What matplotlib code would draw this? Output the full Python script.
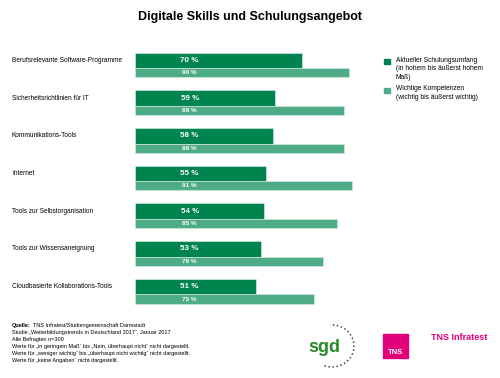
import numpy as np
import matplotlib.pyplot as plt
import matplotlib.transforms as mtransforms
from matplotlib.patches import Rectangle

plt.rcParams['font.family'] = ['Liberation Sans', 'DejaVu Sans']

title = "Digitale Skills und Schulungsangebot"
categories = ["Berufsrelevante Software-Programme", "Sicherheitsrichtlinien für IT",
              "Kommunikations-Tools", "Internet", "Tools zur Selbstorganisation",
              "Tools zur Wissensaneignung", "Cloudbasierte Kollaborations-Tools"]
aktuell = [70, 59, 58, 55, 54, 53, 51]
wichtig = [90, 88, 88, 91, 85, 79, 75]
legend_labels = ["Aktueller Schulungsumfang\n(in hohem bis äußerst hohem\nMaß)",
                 "Wichtige Kompetenzen\n(wichtig bis äußerst wichtig)"]
quelle = "TNS Infratest/Studiengemeinschaft Darmstadt"
footer = ("Studie \u201eWeiterbildungstrends in Deutschland 2017\u201c, Januar 2017\n"
          "Alle Befragten n=300\n"
          "Werte für \u201ein geringem Maß\u201c bis \u201eNein, überhaupt nicht\u201c nicht dargestellt.\n"
          "Werte für \u201eweniger wichtig\u201c bis \u201eüberhaupt nicht wichtig\u201c nicht dargestellt.\n"
          "Werte für \u201ekeine Angaben\u201c nicht dargestellt.")

dark = '#00844f'
light = '#4dab86'
magenta = '#e2007a'

fig = plt.figure(figsize=(5, 3.78), dpi=100)
ax = fig.add_axes([0.27, 0.192, 0.476, 0.698])

y = np.arange(len(categories))
ax.barh(y, aktuell, height=0.42, color=dark, edgecolor='#cfe8dc', linewidth=0.5)
ax.barh(y + 0.33, wichtig, height=0.24, color=light, edgecolor='#cfe8dc', linewidth=0.5)

for i in range(len(categories)):
    ax.text(23, y[i], f"{aktuell[i]} %", ha='center', va='center', color='white',
            fontsize=5.8, fontweight='bold')
    ax.text(23, y[i] + 0.33, f"{wichtig[i]} %", ha='center', va='center', color='white',
            fontsize=4.6, fontweight='bold')

trans = mtransforms.blended_transform_factory(fig.transFigure, ax.transData)
for i, c in enumerate(categories):
    ax.text(0.024, y[i], c, transform=trans, ha='left', va='center', fontsize=4.7)

ax.set_xlim(0, 100)
ax.set_ylim(6.5, -0.5)
ax.axis('off')

fig.text(0.5, 0.955, title, ha='center', va='center', fontsize=9, fontweight='bold')

# legend
for k, (lab, col, ytop) in enumerate(zip(legend_labels, [dark, light], [58.5, 87.5])):
    fig.patches.append(Rectangle((384 / 500, 1 - (ytop + 5.5) / 378), 5.5 / 500, 5.5 / 378,
                                 transform=fig.transFigure, color=col))
    fig.text(396 / 500, 1 - (ytop - 2) / 378, lab, ha='left', va='top', fontsize=4.8,
             linespacing=1.35)

# footer
fx, fy = 0.024, 1 - 323.5 / 378
q = fig.text(fx, fy, "Quelle:", ha='left', va='top', fontsize=4, fontweight='bold')
fig.canvas.draw()
bb = q.get_window_extent().transformed(fig.transFigure.inverted())
fig.text(bb.x1 + 0.004, fy, quelle, ha='left', va='top', fontsize=4)
fig.text(fx, fy - 6.9 / 378, footer, ha='left', va='top', fontsize=4, linespacing=1.45)

# logos
fig.text(324 / 500, 1 - 348 / 378, "sgd", ha='center', va='center', fontsize=13,
         fontweight='bold', color='#2a8a2a')
th = np.linspace(np.radians(-110), np.radians(95), 45)
fig.add_artist(plt.Line2D(332 / 500 + 22 / 500 * np.cos(th),
                          1 - 346 / 378 + 21 / 378 * np.sin(th), transform=fig.transFigure,
                          ls=':', lw=1.1, color='#444444'))
fig.patches.append(Rectangle((383 / 500, 1 - 358 / 378), 25 / 500, 24 / 378,
                             transform=fig.transFigure, color=magenta))
fig.text(395.5 / 500, 1 - 352 / 378, "TNS", ha='center', va='center', fontsize=5.5,
         fontweight='bold', color='white')
fig.text(459 / 500, 1 - 338 / 378, "TNS Infratest", ha='center', va='center', fontsize=6.5,
         fontweight='bold', color=magenta)

plt.savefig('out.png', dpi=100)
